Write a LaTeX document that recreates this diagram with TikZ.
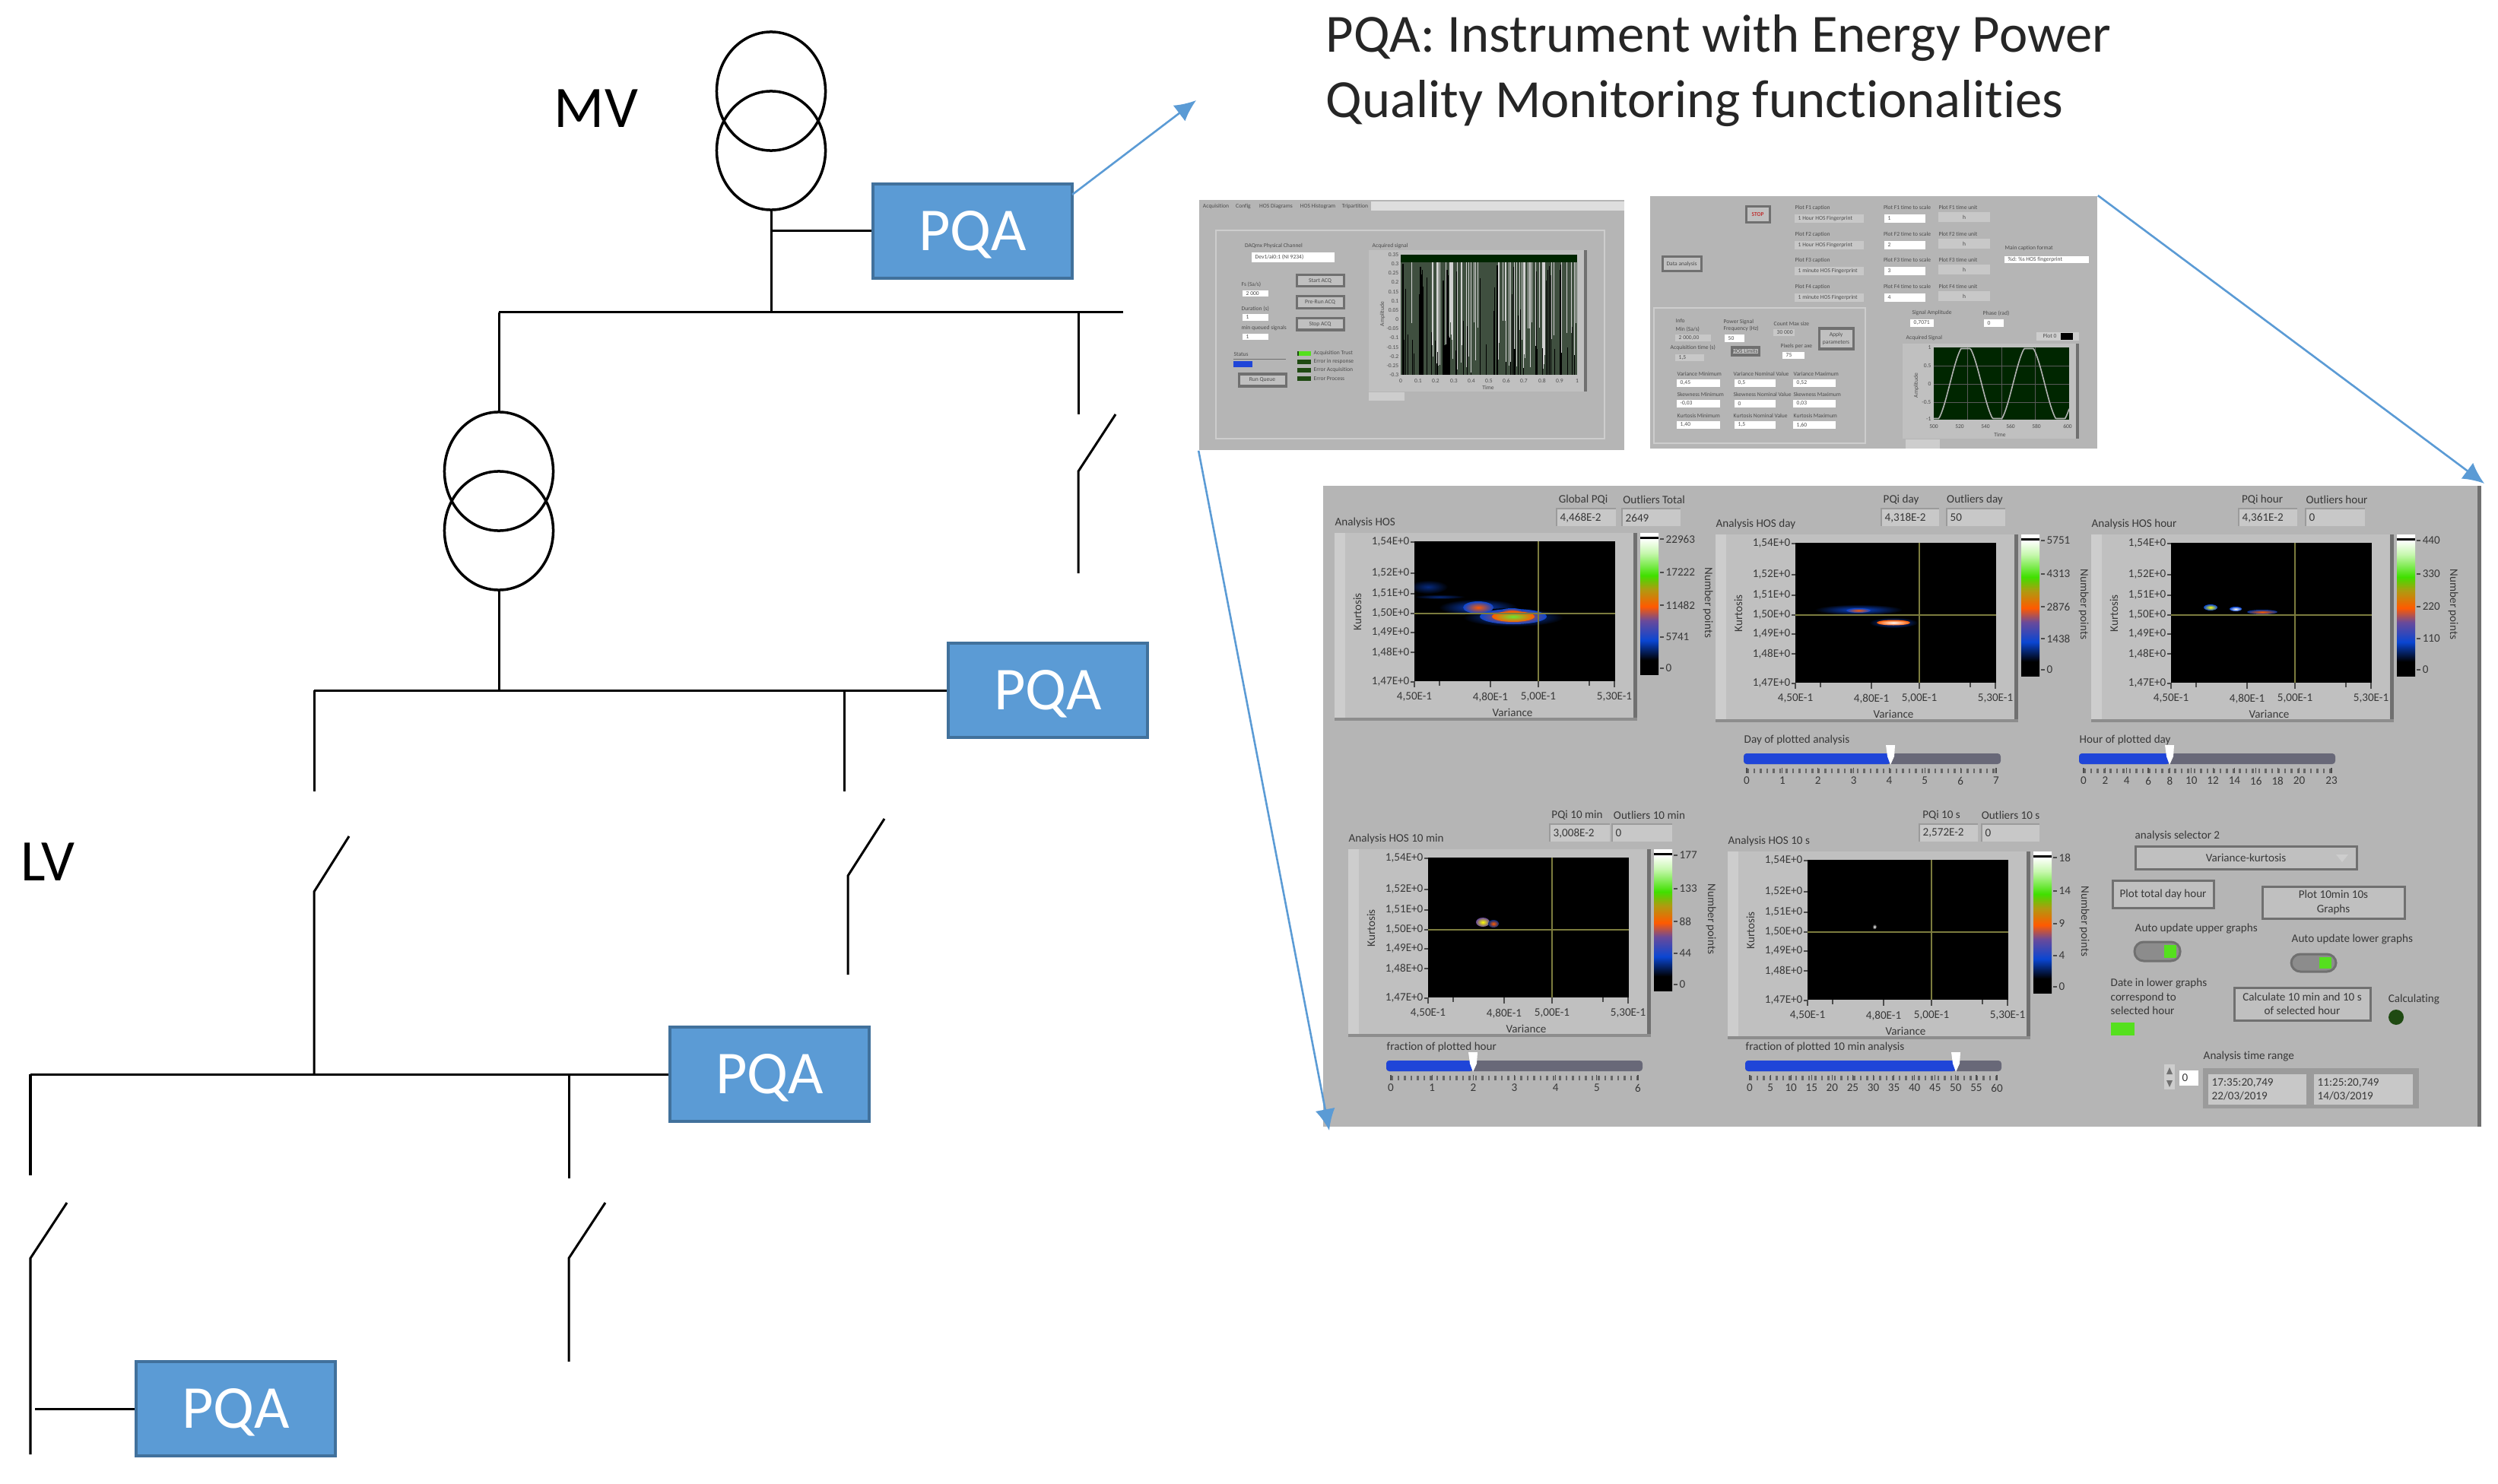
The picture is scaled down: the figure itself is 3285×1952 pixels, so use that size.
\documentclass[tikz,border=0pt]{standalone}
\usepackage{fontspec}
\setmainfont[Ligatures=NoCommon]{Carlito}
\usetikzlibrary{arrows.meta,shapes.geometric,calc}

\definecolor{pqablue}{HTML}{5B9BD5}
\definecolor{pqaedge}{HTML}{41719C}
\definecolor{panelgray}{HTML}{B5B5B5}
\definecolor{framegray}{HTML}{C0C0C0}
\definecolor{framedark}{HTML}{707070}
\definecolor{framelight}{HTML}{CDCDCD}
\definecolor{fieldgray}{HTML}{C8C8C8}
\definecolor{trackgray}{HTML}{686878}
\definecolor{trackblue}{HTML}{1F45D8}
\definecolor{crossgreen}{HTML}{7C7C3E}
\definecolor{ledgreen}{HTML}{55E01E}
\definecolor{leddark}{HTML}{1F4A12}
\definecolor{lutblue}{HTML}{0A46D2}
\definecolor{lutpurple}{HTML}{6A4A9A}
\definecolor{lutorange}{HTML}{FF5A00}
\definecolor{lutolive}{HTML}{B09A10}
\definecolor{lutgreen}{HTML}{40E000}
\definecolor{lutpale}{HTML}{C8F8B0}
\definecolor{wavegreen}{HTML}{3F4F3F}

\pgfdeclareverticalshading{lutbar}{100bp}{color(0bp)=(black); color(30bp)=(black); color(37bp)=(lutblue); color(44bp)=(lutpurple); color(49bp)=(lutorange); color(55bp)=(lutolive); color(60bp)=(lutgreen); color(68bp)=(lutpale); color(73bp)=(white); color(100bp)=(white)}

\newcounter{uilbl}
\newcommand{\uilbl}[4][]{\stepcounter{uilbl}\node[uitext,#1] (ui\arabic{uilbl}) at (#2,#3) {#4};}
% field with text set from its left edge
\newcommand{\uifield}[6][fieldgray]{\fill[#1] (#2,#3) rectangle (#4,#5);
  \stepcounter{uilbl}\node[uitext,uismall] (ui\arabic{uilbl}) at ({#2+4},{(#3+#5)/2}) {#6};}
% button with centred text
\newcommand{\uibutton}[6][uismall]{\draw[uibtn] (#2,#3) rectangle (#4,#5);
  \stepcounter{uilbl}\node[uitext,#1,anchor=center,align=center] (ui\arabic{uilbl}) at ({(#2+#4)/2},{(#3+#5)/2}) {#6};}
\newcommand{\heat}[6]{\shade[inner color=#5,outer color=#6] (#1,#2) ellipse (#3 and #4);}

% x, y, title, colour bar values, x of the rotated label, blobs
\newcommand{\hosplot}[6]{
\begin{scope}[shift={(#1,#2)}]
  \fill[framegray] (0,0) rectangle (398,247);
  \fill[framelight] (0,0) rectangle (14,247);
  \fill[framedark] (393,0) rectangle (398,247);
  \fill[framedark!80] (0,243) rectangle (398,247);
  \fill[black] (105,11) rectangle (369,195);
  \begin{scope}
    \clip (105,11) rectangle (369,195);
    #6
  \end{scope}
  \draw[crossline] (268,11) -- (268,195);
  \draw[crossline] (105,106) -- (369,106);
  \uilbl{0}{-14}{#3}
  \foreach \ylab/\ypos in {54/12,52/53,51/80,50/106,49/131,48/157,47/196}{
    \draw[uitick] (100,\ypos) -- (105,\ypos);
    \uilbl[anchor=east]{99}{\ypos}{1,\ylab E+0}
  }
  \foreach \xa/\xb/\xpos in {4/50/105,4/80/205,5/00/268,5/30/368}{
    \draw[uitick] (\xpos,195) -- (\xpos,203);
    \uilbl[anchor=center]{\xpos}{216}{\xa,\xb E-1}
  }
  \draw[uitick] (138,195) -- (138,201);
  \draw[uitick] (335,195) -- (335,201);
  \uilbl[anchor=center]{234}{236}{Variance}
  \uilbl[anchor=center,rotate=90]{30}{104}{Kurtosis}
  \shade[shading=lutbar] (402,0) rectangle (426,186);
  \fill[white] (402,0) rectangle (426,8);
  \fill[black] (402,5) rectangle (426,8);
  \foreach \cval/\cpos in {#4}{
    \draw[uitick] (428,\cpos) -- (433,\cpos);
    \uilbl{435}{\cpos}{\cval}
  }
  \uilbl[anchor=center,rotate=-90]{#5}{92}{Number points}
\end{scope}
}

% x1, x2, y, thumb, title, first label x, last label x, scale end, labels
\newcommand{\uislider}[9]{
  \uilbl{#1}{#3-18}{#5}
  \fill[trackgray,rounded corners=.04cm] (#1,#3) rectangle (#2,#3+14);
  \fill[trackblue,rounded corners=.04cm] (#1,#3) rectangle (#4,#3+14);
  \draw[dash pattern=on .025cm off .06cm,line width=.06cm,black!60] (#6,#3+23) -- (#7,#3+23);
  \foreach \v in {#9}{
    \pgfmathsetmacro{\lx}{#6+(#7-#6)/#8*\v}
    \draw[uitick] (\lx,#3+19) -- (\lx,#3+26);
    \uilbl[anchor=center]{\lx}{#3+36}{\v}
  }
  \fill[white] (#4-6,#3-11) -- (#4+6,#3-11) -- (#4+5,#3+4) -- (#4,#3+15) -- (#4-4,#3+4) -- cycle;
}

\begin{document}
\begin{tikzpicture}[
  x=.01cm, y=-.01cm,
  wire/.style={draw=black, line width=.03cm},
  winding/.style={ellipse, draw=black, line width=.035cm, minimum width=1.43cm, minimum height=1.56cm, inner sep=0pt},
  pqa/.style={rectangle, draw=pqaedge, line width=.035cm, fill=pqablue, text=white, minimum width=2.62cm, minimum height=1.24cm, text height=14.4pt, text depth=0pt, font=\fontsize{22.8}{24}\selectfont},
  volt/.style={font=\fontsize{22}{24}\selectfont, inner sep=0pt},
  zoomarrow/.style={-{Latex[length=.28cm,width=.26cm]}, draw=pqablue, line width=.026cm},
  screen/.style={rectangle, fill=panelgray, inner sep=0pt},
  uitext/.style={font=\fontsize{4.3}{5.2}\selectfont, text=black!78, inner sep=0pt, anchor=west},
  uismall/.style={font=\fontsize{2.15}{2.8}\selectfont, text=black!70},
  uibtn/.style={fill=framegray, draw=framedark, line width=.03cm},
  uitick/.style={draw=black!70, line width=.012cm},
  crossline/.style={draw=crossgreen, line width=.022cm},
  ledbar/.style={fill=leddark}
]
\useasboundingbox (0,0) rectangle (3285,1952);

% one-line diagram
\node[winding] (tr1a) at (1014,120) {};
\node[winding] (tr1b) at (1014,198) {};
\node[winding] (tr2a) at (656,620) {};
\node[winding] (tr2b) at (656,698) {};
\node[pqa] (pqa1) at (1279,304) {PQA};
\node[pqa] (pqa2) at (1378,908) {PQA};
\node[pqa] (pqa3) at (1012,1413) {PQA};
\node[pqa] (pqa4) at (310,1853) {PQA};
\node[volt] (mv) at (784,143) {MV};
\node[volt] (lv) at (63,1134) {LV};

\coordinate (bus1l) at (656,411);
\coordinate (bus1m) at (1014,411);
\coordinate (bus1r) at (1477,411);
\coordinate (tap1) at (1014,304);
\draw[wire] (tr1b.south) -- (bus1m);
\draw[wire] (tap1) -- (pqa1.west);
\draw[wire] (bus1l) -- (bus1r);
\draw[wire] (bus1l) -- (tr2a.north);
\coordinate (bus2l) at (413,908);
\coordinate (bus2m) at (656,908);
\draw[wire] (tr2b.south) -- (bus2m);
\draw[wire] (bus2l) -- (pqa2.west);
\coordinate (bus3l) at (40,1413);
\coordinate (bus3d) at (748,1413);
\draw[wire] (bus3l) -- (bus3d);
\draw[wire] (bus3d) -- (pqa3.west);
\coordinate (tap4) at (46,1853);
\draw[wire] (tap4) -- (pqa4.west);

% feeder stubs and open switches: name/x/start/end of stub/x and y of hinge/x and y of arm/end of stem
\foreach \nm/\sx/\sy/\ey/\hx/\hy/\ax/\ay/\by in {a/1418/411/545/1418/620/1467/545/754, b/413/908/1041/413/1173/459/1100/1413, c/1110/908/1041/1115/1152/1163/1077/1282, d/40/1413/1546/40/1655/88/1582/1913, e/748/1413/1550/748/1655/796/1582/1791}{
  \coordinate (st\nm) at (\sx,\sy);
  \coordinate (se\nm) at (\sx,\ey);
  \coordinate (hg\nm) at (\hx,\hy);
  \coordinate (ar\nm) at (\ax,\ay);
  \coordinate (en\nm) at (\hx,\by);
  \draw[wire] (st\nm) -- (se\nm);
  \draw[wire] (ar\nm) -- (hg\nm) -- (en\nm);
}

\node[inner sep=0pt, anchor=west, align=left, font=\fontsize{20.1}{24.2}\selectfont, text=black!85] (title) at (1743,93) {PQA: Instrument with Energy Power\\Quality Monitoring functionalities};

% screens
\node[screen, minimum width=5.59cm, minimum height=3.29cm] (scrA) at (1856.5,427.5) {};
\node[screen, minimum width=5.88cm, minimum height=3.32cm] (scrB) at (2464,424) {};
\node[screen, minimum width=15.23cm, minimum height=8.43cm] (scrC) at (2501.5,1060.5) {};

\coordinate (tipa) at (1573,132);
\coordinate (fromq) at (1410,256);
\coordinate (tipb) at (3267,636);
\coordinate (tipc) at (1748,1487);
\draw[zoomarrow] (fromq) -- (tipa);
\draw[zoomarrow] (scrB.north east) -- (tipb);
\draw[zoomarrow] (scrA.south west) -- (tipc);

% acquisition screen
\begin{scope}[uitext/.append style={uismall}]
\fill[fieldgray!60!white] (1803,265) rectangle (2136,277);
\foreach \tb/\tx in {Acquisition/1599,Config/1635,HOS Diagrams/1678,HOS Histogram/1733,Tripartition/1782}{
  \uilbl[anchor=center]{\tx}{272}{\tb}
}
\draw[framelight, line width=.02cm] (1599,303) rectangle (2110,577);
\uilbl[anchor=center]{1675}{323}{DAQmx Physical Channel}
\uifield[white]{1646}{332}{1755}{345}{Dev1/ai0:1 (NI 9234)}
\uibutton{1705}{362}{1767}{377}{Start ACQ}
\uibutton{1705}{390}{1767}{406}{Pre-Run ACQ}
\uibutton{1705}{419}{1767}{434}{Stop ACQ}
\uilbl{1632}{374}{Fs (Sa/s)}
\uifield[white]{1634}{382}{1668}{390}{2 000}
\uilbl{1632}{406}{Duration (s)}
\uifield[white]{1634}{413}{1668}{422}{1}
\uilbl{1632}{432}{min queued signals}
\uifield[white]{1634}{439}{1668}{447}{1}
\uilbl{1622}{466}{Status}
\fill[trackblue] (1622,475) rectangle (1647,483);
\draw[framedark, line width=.01cm] (1622,473) -- (1691,473);
\uibutton{1629}{492}{1691}{508}{Run Queue}
\foreach \ledy/\ledt in {465/Acquisition Trust,476/Error in response,487/Error Acquisition,498/Error Process}{
  \fill[ledbar] (1706,\ledy-3) rectangle (1724,\ledy+3);
  \uilbl{1727}{\ledy}{\ledt}
}
\fill[ledgreen] (1708,462) rectangle (1724,468);
\uilbl{1804}{324}{Acquired signal}
\fill[framegray] (1800,329) rectangle (2087,515);
\fill[framedark] (2083,329) rectangle (2087,515);
\fill[black!85!green] (1842,335) rectangle (2074,345);
\fill[wavegreen] (1842,345) rectangle (2074,493);
\pgfmathsetseed{17}
\foreach \i in {1,...,60}{
  \pgfmathsetmacro{\wx}{1843+rnd*230}
  \pgfmathsetmacro{\wt}{345+rnd*120}
  \draw[black, line width=.012cm] (\wx,\wt) -- (\wx,493);
}
\foreach \i in {1,...,55}{
  \pgfmathsetmacro{\wx}{1843+rnd*230}
  \pgfmathsetmacro{\wt}{420+rnd*70}
  \draw[black!18, line width=.009cm] (\wx,345) -- (\wx,\wt);
}
\foreach \gl/\gy in {0.35/335,0.3/347,0.25/359,0.2/371,0.15/384,0.1/396,0.05/408,0/420,-0.05/432,-0.1/444,-0.15/457,-0.2/469,-0.25/481,-0.3/493}{
  \uilbl[anchor=east]{1840}{\gy}{\gl}
}
\foreach \gl/\gx in {0/1842,0.1/1865,0.2/1888,0.3/1912,0.4/1935,0.5/1958,0.6/1981,0.7/2004,0.8/2028,0.9/2051,1/2074}{
  \uilbl[anchor=center]{\gx}{501}{\gl}
}
\uilbl[anchor=center]{1957}{510}{Time}
\uilbl[anchor=center,rotate=90]{1818}{413}{Amplitude}
\fill[framelight] (1800,516) rectangle (1847,527);
\end{scope}

% settings screen
\begin{scope}[uitext/.append style={uismall}]
\uibutton{2296}{272}{2327}{293}{\textcolor{red!75!black}{STOP}}
\uibutton{2186}{338}{2237}{357}{Data analysis}
\foreach \pn/\py/\pc in {1/273/1 Hour HOS Fingerprint,2/308/1 Hour HOS Fingerprint,3/342/1 minute HOS Fingerprint,4/377/1 minute HOS Fingerprint}{
  \uilbl{2360}{\py}{Plot F\pn{} caption}
  \uifield{2360}{\py+9}{2451}{\py+20}{\pc}
  \uilbl[anchor=center]{2508}{\py}{Plot F\pn{} time to scale}
  \uifield[white]{2478}{\py+9}{2532}{\py+20}{\pn}
  \uilbl[anchor=center]{2575}{\py}{Plot F\pn{} time unit}
  \fill[fieldgray] (2549,\py+6) rectangle (2617,\py+19);
  \uilbl[anchor=center]{2583}{\py+13}{h}
}
\uilbl{2636}{327}{Main caption format}
\uifield[white]{2636}{337}{2747}{346}{\%d: \%s HOS fingerprint}
\draw[framelight, line width=.02cm] (2175,405) rectangle (2453,583);
\uilbl{2203}{422}{Info}
\uilbl{2203}{433}{Min (Sa/s)}
\uifield{2203}{440}{2250}{449}{2 000,00}
\uilbl{2196}{457}{Acquisition time (s)}
\uifield{2203}{466}{2241}{475}{1,5}
\uilbl[align=left]{2266}{428}{Power Signal\\Frequency (Hz)}
\uifield[white]{2268}{440}{2294}{450}{50}
\uibutton{2277}{457}{2313}{467}{HOS Limits}
\uilbl{2332}{426}{Count Max size}
\uifield{2332}{433}{2360}{442}{30 000}
\uilbl{2341}{455}{Pixels per axe}
\uifield[white]{2344}{463}{2373}{472}{75}
\uibutton{2392}{432}{2437}{459}{Apply\\parameters}
\foreach \rw/\ry/\rlo/\rnm/\rhi in {Variance/492/{0,45}/{0,5}/{0,52},Skewness/519/{-0,03}/{0}/{0,03},Kurtosis/547/{1,40}/{1,5}/{1,60}}{
  \uilbl{2205}{\ry}{\rw{} Minimum}
  \uifield[white]{2205}{\ry+7}{2262}{\ry+17}{\rlo}
  \uilbl{2279}{\ry}{\rw{} Nominal Value}
  \uifield[white]{2281}{\ry+7}{2335}{\ry+17}{\rnm}
  \uilbl{2358}{\ry}{\rw{} Maximum}
  \uifield[white]{2358}{\ry+7}{2414}{\ry+17}{\rhi}
}
\uilbl{2514}{412}{Signal Amplitude}
\uifield[white]{2512}{420}{2543}{430}{0,7071}
\uilbl{2607}{412}{Phase (rad)}
\uifield[white]{2609}{420}{2635}{430}{0}
\uilbl{2506}{445}{Acquired Signal}
\fill[framegray] (2502,452) rectangle (2734,577);
\fill[framedark] (2730,452) rectangle (2734,577);
\fill[black!85!green] (2543,457) rectangle (2721,552);
\draw[black!65!white, line width=.008cm] (2543,481) -- (2721,481) (2543,505) -- (2721,505) (2543,529) -- (2721,529) (2587,457) -- (2587,552) (2632,457) -- (2632,552) (2676,457) -- (2676,552);
\draw[black!30, line width=.016cm] plot[domain=2543:2721, samples=140] (\x,{504.5-46*max(-1,min(1,1.12*cos((\x-2585)/83*360)))});
\foreach \gl/\gy in {1/457,0.5/481,0/505,-0.5/529,-1/551}{
  \uilbl[anchor=east]{2540}{\gy}{\gl}
}
\foreach \gl/\gx in {500/2543,520/2577,540/2611,560/2644,580/2678,600/2719}{
  \uilbl[anchor=center]{\gx}{561}{\gl}
}
\uilbl[anchor=center]{2630}{572}{Time}
\uilbl[anchor=center,rotate=90]{2520}{507}{Amplitude}
\fill[framelight] (2678,437) rectangle (2734,448);
\fill[black] (2710,438) rectangle (2726,447);
\uilbl{2686}{442}{Plot 0}
\fill[framelight] (2506,578) rectangle (2551,590);
\end{scope}

% analysis screen
\fill[framedark] (3258,639) rectangle (3263,1482);

\hosplot{1755}{701}{Analysis HOS}{22963/8,17222/52,11482/95,5741/137,0/178}{491}{
  \heat{123}{71}{26}{9}{lutblue!60!black}{black}
  \heat{138}{84}{34}{3}{lutblue!60!black}{black}
  \heat{189}{98}{52}{11}{lutblue}{black}
  \heat{235}{111}{66}{12}{lutblue}{black}
  \heat{189}{98}{20}{8}{lutorange}{lutblue}
  \heat{235}{110}{44}{10}{lutorange}{lutblue}
  \heat{233}{103}{15}{4}{lutorange}{lutblue}
  \heat{235}{110}{28}{7}{lutgreen!80!white}{lutorange}
}
\hosplot{2256}{703}{Analysis HOS day}{5751/8,4313/52,2876/95,1438/137,0/178}{484}{
  \heat{188}{99}{58}{7}{lutblue}{black}
  \heat{234}{116}{32}{7}{lutblue}{black}
  \heat{188}{100}{16}{3}{lutorange}{lutblue}
  \heat{234}{116}{22}{3.5}{white}{lutorange}
}
\hosplot{2750}{703}{Analysis HOS hour}{440/8,330/52,220/95,110/137,0/178}{476}{
  \heat{157}{96}{9}{4}{yellow}{lutblue}
  \heat{190}{98}{8}{3}{white}{lutblue}
  \heat{225}{102}{20}{3}{lutorange}{lutblue!70!black}
}
\hosplot{1773}{1117}{Analysis HOS 10 min}{177/8,133/52,88/95,44/137,0/178}{477}{
  \heat{177}{96}{9}{6}{yellow}{lutpurple}
  \heat{191}{98}{7}{5}{lutorange}{lutblue!60!black}
}
\hosplot{2272}{1120}{Analysis HOS 10 s}{18/8,14/52,9/95,4/137,0/178}{469}{
  \heat{193}{99}{3}{3.5}{white}{black}
}

\foreach \lbx/\bxa/\bxb/\bxy/\bxt/\bxv in {2082/2047/2125/669/Global PQi/{4,468E-2},2175/2133/2210/669/Outliers Total/2649,2500/2474/2550/669/PQi day/{4,318E-2},2597/2560/2637/669/Outliers day/50,2975/2944/3021/669/PQi hour/{4,361E-2},3073/3032/3110/669/Outliers hour/0,2074/2038/2117/1084/PQi 10 min/{3,008E-2},2169/2120/2199/1084/Outliers 10 min/0,2553/2524/2601/1084/PQi 10 s/{2,572E-2},2644/2606/2682/1084/Outliers 10 s/0}{
  \uilbl[anchor=center]{\lbx}{\bxy-12}{\bxt}
  \fill[fieldgray] (\bxa,\bxy) rectangle (\bxb,\bxy+23);
  \draw[framedark!70, line width=.012cm] (\bxa,\bxy+23) -- (\bxa,\bxy) -- (\bxb,\bxy);
  \uilbl{\bxa+4}{\bxy+12}{\bxv}
}

\uislider{2293}{2631}{991}{2486}{Day of plotted analysis}{2297}{2625}{7}{0,1,2,3,4,5,6,7}
\uislider{2734}{3071}{991}{2853}{Hour of plotted day}{2740}{3066}{23}{0,2,4,6,8,10,12,14,16,18,20,23}
\uislider{1823}{2160}{1395}{1937}{fraction of plotted hour}{1829}{2154}{6}{0,1,2,3,4,5,6}
\uislider{2295}{2632}{1395}{2572}{fraction of plotted 10 min analysis}{2301}{2626}{60}{0,5,10,15,20,25,30,35,40,45,50,55,60}

\uilbl{2807}{1099}{analysis selector 2}
\uibutton[]{2808}{1113}{3099}{1143}{Variance-kurtosis}
\fill[framelight] (3072,1124) -- (3088,1124) -- (3080,1134) -- cycle;
\uibutton[]{2778}{1158}{2911}{1194}{Plot total day hour}
\uibutton[]{2975}{1166}{3162}{1208}{Plot 10min 10s\\Graphs}
\uilbl{2807}{1222}{Auto update upper graphs}
\draw[fill=black!45, draw=framedark, line width=.03cm, rounded corners=.12cm] (2807,1239) rectangle (2867,1264);
\fill[ledgreen] (2846,1243) rectangle (2862,1260);
\uilbl{3013}{1236}{Auto update lower graphs}
\draw[fill=black!45, draw=framedark, line width=.03cm, rounded corners=.12cm] (3013,1255) rectangle (3072,1278);
\fill[ledgreen] (3050,1259) rectangle (3066,1274);
\uilbl[align=left]{2775}{1311}{Date in lower graphs\\ correspond to\\selected hour}
\fill[ledgreen] (2776,1345) rectangle (2807,1362);
\uibutton[]{2938}{1299}{3117}{1342}{Calculate 10 min and 10 s\\of selected hour}
\uilbl{3140}{1315}{Calculating}
\fill[leddark] (3151,1338) circle (10);
\uilbl{2897}{1390}{Analysis time range}
\fill[framelight] (2846,1400) rectangle (2860,1433);
\fill[framedark] (2853,1404) -- (2857,1413) -- (2849,1413) -- cycle (2849,1421) -- (2857,1421) -- (2853,1430) -- cycle;
\fill[white] (2866,1408) rectangle (2891,1428);
\uilbl{2869}{1418}{0}
\fill[framedark!70] (2897,1405) rectangle (3181,1458);
\fill[fieldgray] (2904,1413) rectangle (3033,1453);
\fill[fieldgray] (3043,1413) rectangle (3173,1453);
\uilbl[align=left]{2908}{1433}{17:35:20,749\\22/03/2019}
\uilbl[align=left]{3047}{1433}{11:25:20,749\\14/03/2019}

\end{tikzpicture}
\end{document}
